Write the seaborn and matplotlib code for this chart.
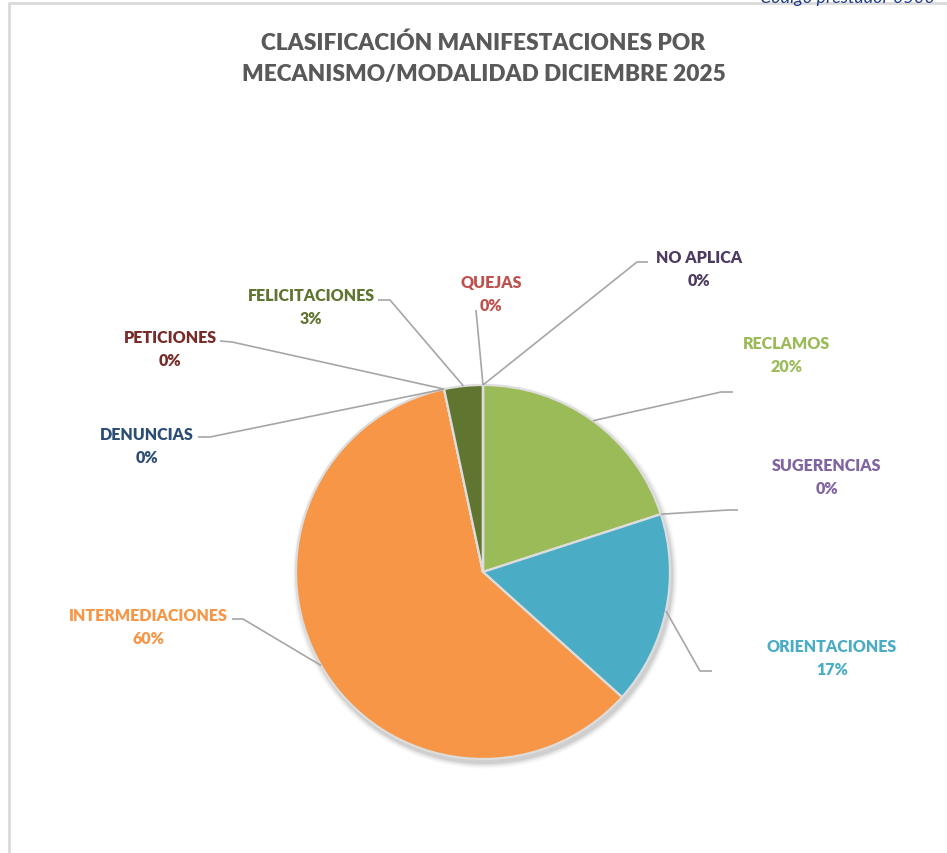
import numpy as np
import matplotlib
matplotlib.use("Agg")
import matplotlib.pyplot as plt
from matplotlib.patches import Circle
import seaborn as sns

# data, in drawing order (clockwise from 12 o'clock)
CATEGORIES = ["RECLAMOS", "SUGERENCIAS", "ORIENTACIONES", "INTERMEDIACIONES",
              "DENUNCIAS", "PETICIONES", "FELICITACIONES", "QUEJAS", "NO APLICA"]
COUNTS = [6, 0, 5, 18, 0, 0, 1, 0, 0]
COLORS = ["#9BBB59", "#8064A2", "#4BACC6", "#F79646",
          "#2C4D75", "#772C2A", "#5F7530", "#C0504D", "#4D3B62"]

TITLE_LINES = ["CLASIFICACIÓN MANIFESTACIONES POR",
               "MECANISMO/MODALIDAD DICIEMBRE 2025"]

W, H = 947, 854
CENTER = (483, 573)   # pixel, top-origin
RADIUS = 187

# label layout: text centre of name line, leader elbow, leader end (pixel, top-origin)
LABEL_POS = {
    "RECLAMOS": ((787, 344), (721, 393), (733, 393)),
    "SUGERENCIAS": ((827, 466), (728, 511), (738, 511)),
    "ORIENTACIONES": ((832, 647), (700, 672), (712, 672)),
    "INTERMEDIACIONES": ((148, 616), (243, 620), (232, 620)),
    "DENUNCIAS": ((147, 435), (210, 438), (198, 438)),
    "PETICIONES": ((170, 338), (232, 343), (220, 342)),
    "FELICITACIONES": ((311, 296), (390, 301), (378, 301)),
    "QUEJAS": ((491, 283), (476, 311), (476, 311)),
    "NO APLICA": ((699, 258), (637, 263), (648, 263)),
}


def fy(y):
    return H - y


sns.set_theme(style="white")
plt.rcParams["font.family"] = ["Lato", "DejaVu Sans"]

fig = plt.figure(figsize=(W / 100, H / 100), dpi=100)
ax = fig.add_axes([0, 0, 1, 1])

cx, cy = CENTER[0], fy(CENTER[1])

# soft shadow behind the pie
for i, a in enumerate(np.linspace(0.05, 0.012, 6)):
    ax.add_patch(Circle((cx + 2, cy - 4), RADIUS + 1 + i, color="black",
                        alpha=a, lw=0, zorder=0))

palette = sns.color_palette(COLORS)
wedges, _ = ax.pie(COUNTS, colors=palette, startangle=90, counterclock=False,
                   center=(cx, cy), radius=RADIUS, frame=True,
                   wedgeprops=dict(edgecolor="#DDDDDD", linewidth=1.6))
ax.set_xlim(0, W)
ax.set_ylim(0, H)
ax.set_aspect("equal")
ax.axis("off")

total = sum(COUNTS)
for w, name, val, col in zip(wedges, CATEGORIES, COUNTS, COLORS):
    mid = np.deg2rad((w.theta1 + w.theta2) / 2)
    ax_pt = (cx + RADIUS * np.cos(mid), cy + RADIUS * np.sin(mid))
    (tx, ty), (ex, ey), (lx, ly) = LABEL_POS[name]
    ax.plot([ax_pt[0], ex, lx], [ax_pt[1], fy(ey), fy(ly)], color="#A6A6A6",
            lw=1.2, zorder=3, solid_capstyle="butt")
    ax.text(tx, fy(ty), name, color=col, fontsize=11.5, fontweight="heavy",
            ha="center", va="center")
    ax.text(tx, fy(ty + 23), f"{round(val / total * 100)}%", color=col,
            fontsize=11.5, fontweight="heavy", ha="center", va="center")

for line, ty in zip(TITLE_LINES, [43, 74]):
    ax.text(W / 2 + 10, fy(ty), line, color="#595959", fontsize=16.3,
            fontweight="heavy", ha="center", va="center")

# chart frame (cut off at right and bottom)
ax.plot([9, 9, W + 5], [-5, fy(4), fy(4)], color="#D9D9D9", lw=2, zorder=1)

# page header peeking in at the top
fig.text(760 / W, 1 - 2.5 / H, "Código prestador 0500", color="#1F3C88",
         fontsize=13, style="italic", ha="left", va="baseline")

fig.savefig("out.png", dpi=100)
